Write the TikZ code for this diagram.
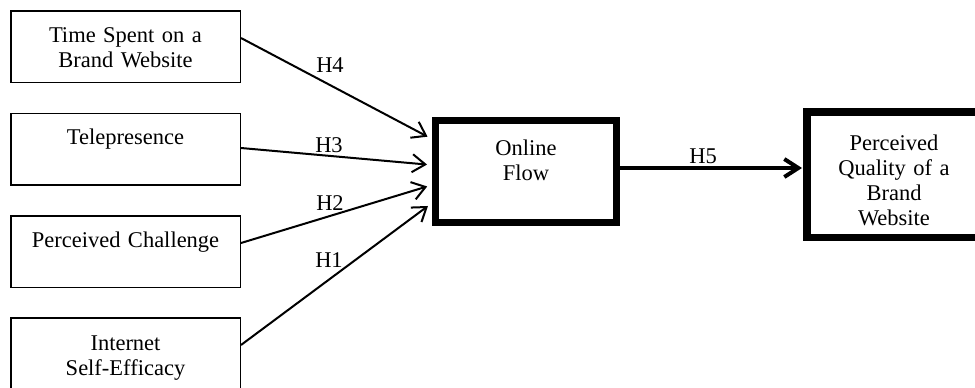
\documentclass[tikz,border=0pt]{standalone}
\usepackage{fontspec}
\setmainfont{Liberation Serif}
\usetikzlibrary{arrows.meta}
\begin{document}
\begin{tikzpicture}[x=1pt,y=-1pt,
  every node/.style={font=\fontsize{22.5}{25}\selectfont},
  inbox/.style={draw, line width=1.5pt, minimum width=229.5pt, minimum height=71.5pt, inner sep=0pt},
  bigbox/.style={draw, line width=7pt, inner sep=0pt},
  boxtext/.style={text width=225pt, align=center, inner sep=0pt, anchor=base},
  hlabel/.style={inner sep=0pt, anchor=base},
  arr/.style={line width=2pt, -{Straight Barb[length=13pt,width=18pt]}, shorten >=5pt},
  bigarr/.style={line width=4pt, -{Straight Barb[length=14pt,width=18pt]}, shorten >=1pt}]
  \useasboundingbox (0,0) rectangle (975,388);
  \clip (0,0) rectangle (975,388);

  % antecedent boxes
  \node[inbox] (b1) at (125.5,46.5) {};
  \node[inbox] (b2) at (125.5,149) {};
  \node[inbox] (b3) at (125.5,251.5) {};
  \node[inbox] (b4) at (125.5,353.5) {};
  \node[boxtext] (t1) at (125.5,42) {Time Spent on a\\Brand Website};
  \node[boxtext] (t2) at (125.5,144) {Telepresence};
  \node[boxtext] (t3) at (125.5,247) {Perceived Challenge};
  \node[boxtext] (t4) at (125.5,350) {Internet\\Self-Efficacy};

  % mediator and outcome
  \node[bigbox, minimum width=181pt, minimum height=102pt] (flow) at (526,171.5) {};
  \node[boxtext, text width=170pt] (tf) at (526,155) {Online\\Flow};
  \node[bigbox, line width=7.5pt, minimum width=174.5pt, minimum height=125.5pt] (qual) at (894,174.5) {};
  \node[boxtext, text width=170pt] (tq) at (894,150) {Perceived\\Quality of a\\Brand\\Website};

  % hypothesised paths
  \draw[arr] ([yshift=8.5pt]b1.east) -- ([yshift=32.5pt]flow.west);
  \draw[arr] ([yshift=1pt]b2.east) -- ([yshift=6.5pt]flow.west);
  \draw[arr] ([yshift=8.5pt]b3.east) -- ([yshift=-13.5pt]flow.west);
  \draw[arr] ([yshift=8.5pt]b4.east) -- ([yshift=-31.5pt]flow.west);
  \draw[bigarr] ([yshift=3.5pt]flow.east) -- ([yshift=6.5pt]qual.west);

  \node[hlabel] (h4) at (330,72.5) {H4};
  \node[hlabel] (h3) at (329,152) {H3};
  \node[hlabel] (h2) at (330,210) {H2};
  \node[hlabel] (h1) at (329,267) {H1};
  \node[hlabel] (h5) at (703,163) {H5};
\end{tikzpicture}
\end{document}
